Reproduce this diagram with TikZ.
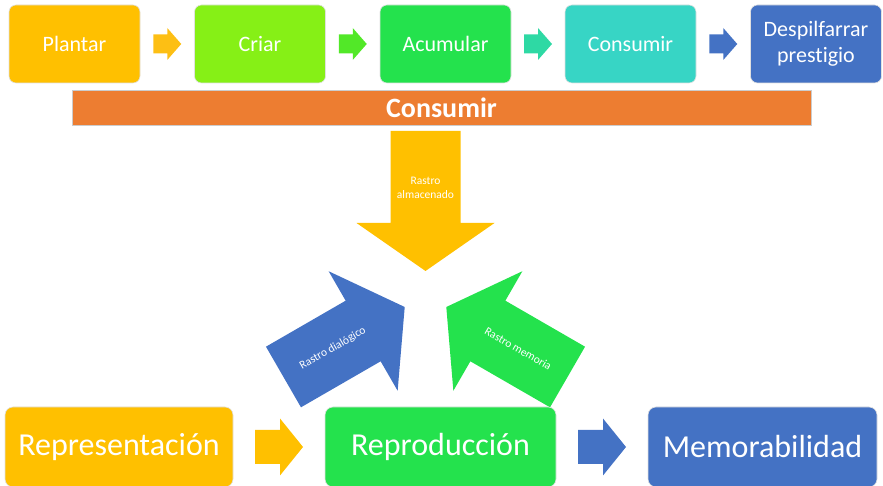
\documentclass[tikz,border=0pt]{standalone}
\usepackage{fontspec}
\setmainfont{Carlito}[Ligatures=NoCommon]
\usetikzlibrary{calc}
\definecolor{cYel}{HTML}{FFC000}
\definecolor{cLime}{HTML}{86F016}
\definecolor{cGreen}{HTML}{24E24D}
\definecolor{cTeal}{HTML}{37D5C5}
\definecolor{cBlue}{HTML}{4472C4}
\definecolor{cOrange}{HTML}{ED7D31}
\definecolor{aYel}{HTML}{FDBF14}
\definecolor{aGreen}{HTML}{52E828}
\definecolor{aTeal}{HTML}{2ED9A4}
\definecolor{aBlue}{HTML}{4472C4}
% straight block arrow: centre, angle, length, shaft width, head width, head length, colour
\newcommand\BArrow[7]{%
  \begin{scope}[shift={(#1)},rotate=#2]
    \fill[#7] ({-#3/2},{-#4/2}) -- ({#3/2-#6},{-#4/2}) -- ({#3/2-#6},{-#5/2}) -- ({#3/2},0)
      -- ({#3/2-#6},{#5/2}) -- ({#3/2-#6},{#4/2}) -- ({-#3/2},{#4/2}) -- cycle;
  \end{scope}}
% converging arrow: angle, colour, label rotation, label, label name
\newcommand\ConvArrow[5]{%
  \begin{scope}[shift={(C)},rotate=#1]
    \fill[#2] (-164,-35) -- (-72,-35) -- (-72,-69) -- (-24,0) -- (-72,69) -- (-72,35) -- (-164,35) -- cycle;
    \node[lbl,rotate=#3] (#5) at (-107,0) {#4};
  \end{scope}}
\begin{document}
\begin{tikzpicture}[x=1pt,y=1pt,
  topbox/.style={rounded corners=7pt, draw=black!12, line width=0.6pt, minimum width=131pt,
    minimum height=78pt, text=white, align=center, font=\fontsize{22}{26}\selectfont, inner sep=0pt},
  botbox/.style={rounded corners=8pt, draw=black!12, line width=0.6pt, minimum height=80pt,
    text=white, font=\fontsize{32}{38}\selectfont, inner sep=0pt},
  lbl/.style={text=white, font=\fontsize{11.5}{13.5}\selectfont, align=center, inner sep=0pt}]
\useasboundingbox (0,0) rectangle (883,486);
\clip (0,0) rectangle (883,486);

% top row
\node[topbox, fill=cYel]   (plantar)  at (74.5,442)  {Plantar};
\node[topbox, fill=cLime]  (criar)    at (260,442)   {Criar};
\node[topbox, fill=cGreen] (acumular) at (445.5,442) {Acumular};
\node[topbox, fill=cTeal]  (consumirA) at (630.5,442) {Consumir};
\node[topbox, fill=cBlue]  (despil)   at (816,442)   {Despilfarrar\\prestigio};

\BArrow{$(plantar.east)!0.5!(criar.west)$}{0}{28}{19}{32}{14}{aYel}
\BArrow{$(criar.east)!0.5!(acumular.west)$}{0}{28}{19}{32}{14}{aGreen}
\BArrow{$(acumular.east)!0.5!(consumirA.west)$}{0}{28}{19}{32}{14}{aTeal}
\BArrow{$(consumirA.east)!0.5!(despil.west)$}{0}{28}{19}{32}{14}{aBlue}

% orange bar
\node[fill=cOrange, draw=black!20, line width=0.6pt, minimum width=739pt, minimum height=35pt,
  inner sep=0pt, text=white, font=\bfseries\fontsize{28}{32}\selectfont] (bar) at (441.5,378.5) {Consumir};

% converging arrows
\coordinate (C) at (425.5,191);
\ConvArrow{-90}{cYel}{0}{Rastro\\almacenado}{lalm}
\ConvArrow{30}{cBlue}{30}{Rastro dialógico}{ldia}
\ConvArrow{150}{cGreen}{-30}{Rastro memoria}{lmem}

% bottom row
\node[botbox, fill=cYel,   minimum width=228pt] (repr)  at (119,39)   {Representación};
\node[botbox, fill=cGreen, minimum width=231pt] (repro) at (440.5,39) {Reproducción};
\node[botbox, fill=cBlue,  minimum width=229pt] (memo)  at (762.5,39) {Memorabilidad};

\BArrow{$(repr.east)!0.5!(repro.west)$}{0}{48}{34}{57}{23}{cYel}
\BArrow{$(repro.east)!0.5!(memo.west)$}{0}{48}{34}{57}{23}{cBlue}
\end{tikzpicture}
\end{document}
